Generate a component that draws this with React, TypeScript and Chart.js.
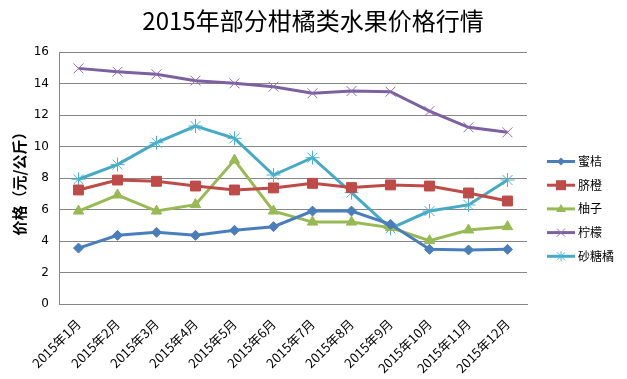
import React, { useEffect, useRef } from "react";
import { Chart, registerables } from "chart.js";

Chart.register(...registerables);

const title = "2015年部分柑橘类水果价格行情";
const yTitle = "价格（元/公斤）";
const months = [
  "2015年1月", "2015年2月", "2015年3月", "2015年4月", "2015年5月", "2015年6月",
  "2015年7月", "2015年8月", "2015年9月", "2015年10月", "2015年11月", "2015年12月",
];
const seriesNames = ["蜜桔", "脐橙", "柚子", "柠檬", "砂糖橘"];
const mijie = [3.55, 4.36, 4.55, 4.36, 4.68, 4.91, 5.9, 5.9, 5.06, 3.47, 3.43, 3.47];
const qicheng = [7.24, 7.87, 7.79, 7.49, 7.24, 7.37, 7.66, 7.39, 7.56, 7.49, 7.05, 6.54];
const youzi = [5.9, 6.92, 5.9, 6.31, 9.14, 5.9, 5.2, 5.2, 4.85, 4.02, 4.7, 4.91];
const ningmeng = [14.96, 14.75, 14.58, 14.18, 14.01, 13.8, 13.38, 13.52, 13.48, 12.25, 11.22, 10.9];
const shatangju = [7.92, 8.85, 10.24, 11.3, 10.52, 8.19, 9.29, 7.07, 4.8, 5.9, 6.29, 7.87];
const yTicksMax = 16;
const yTicksStep = 2;

const colors = ["#4A7EBB", "#BE4B48", "#98B954", "#7D60A0", "#46AAC5"];
const markerColors = ["#4A7EBB", "#BE4B48", "#98B954", "#8C6FB0", "#4BB3CF"];
const pointStyles = ["rectRot", "rect", "triangle", "crossRot", "star"];
const pointRadii = [5, 7, 6, 7, 7];
const pointBorderWidths = [1, 1, 1, 1, 1];

const CJK = '"Noto Sans CJK SC", sans-serif';

function drawMarker(ctx: CanvasRenderingContext2D, kind: string, x: number, y: number, color: string) {
  ctx.save();
  ctx.fillStyle = color;
  ctx.strokeStyle = color;
  ctx.lineWidth = 1;
  ctx.beginPath();
  if (kind === "rectRot") {
    ctx.moveTo(x, y - 4); ctx.lineTo(x + 4, y); ctx.lineTo(x, y + 4); ctx.lineTo(x - 4, y); ctx.closePath(); ctx.fill();
  } else if (kind === "rect") {
    ctx.rect(x - 5, y - 5, 10, 10); ctx.fill();
  } else if (kind === "triangle") {
    ctx.moveTo(x, y - 5); ctx.lineTo(x + 5, y + 3); ctx.lineTo(x - 5, y + 3); ctx.closePath(); ctx.fill();
  } else if (kind === "crossRot") {
    ctx.moveTo(x - 4, y - 4); ctx.lineTo(x + 4, y + 4); ctx.moveTo(x + 4, y - 4); ctx.lineTo(x - 4, y + 4); ctx.stroke();
  } else {
    ctx.moveTo(x - 4, y - 4); ctx.lineTo(x + 4, y + 4); ctx.moveTo(x + 4, y - 4); ctx.lineTo(x - 4, y + 4);
    ctx.moveTo(x, y - 5); ctx.lineTo(x, y + 5); ctx.stroke();
  }
  ctx.restore();
}

const decorPlugin = {
  id: "decor",
  afterDraw(chart: any) {
    const ctx: CanvasRenderingContext2D = chart.ctx;
    ctx.save();
    // title
    ctx.fillStyle = "#000";
    ctx.font = `24px ${CJK}`;
    ctx.textAlign = "center";
    ctx.textBaseline = "middle";
    ctx.fillText(title, 313, 21);
    // y title
    ctx.save();
    ctx.translate(19, 180);
    ctx.rotate(-Math.PI / 2);
    ctx.font = `bold 15px ${CJK}`;
    ctx.fillText(yTitle, 0, 0);
    ctx.restore();
    // legend
    const y0 = 161.5;
    const dy = 23.7;
    seriesNames.forEach((name, i) => {
      const y = y0 + i * dy;
      ctx.strokeStyle = colors[i];
      ctx.lineWidth = 3;
      ctx.beginPath();
      ctx.moveTo(547, y);
      ctx.lineTo(575, y);
      ctx.stroke();
      drawMarker(ctx, pointStyles[i], 561, y, markerColors[i]);
      ctx.fillStyle = "#000";
      ctx.font = `12px ${CJK}`;
      ctx.textAlign = "left";
      ctx.textBaseline = "middle";
      ctx.fillText(name, 578, y);
    });
    ctx.restore();
  },
};

export default function App() {
  const ref = useRef<HTMLCanvasElement | null>(null);
  useEffect(() => {
    document.body.style.margin = "0";
    const canvas = ref.current!;
    const seriesData = [mijie, qicheng, youzi, ningmeng, shatangju];
    const chart = new Chart(canvas, {
      type: "line",
      data: {
        labels: months,
        datasets: seriesNames.map((name, i) => ({
          label: name,
          data: seriesData[i],
          borderColor: colors[i],
          backgroundColor: markerColors[i],
          pointBackgroundColor: markerColors[i],
          pointBorderColor: markerColors[i],
          borderWidth: 3,
          pointStyle: pointStyles[i] as any,
          pointRadius: pointRadii[i],
          pointBorderWidth: pointBorderWidths[i],
          tension: 0,
          fill: false,
        })),
      },
      options: {
        responsive: false,
        animation: false,
        devicePixelRatio: 1,
        layout: { padding: { top: 52, right: 100, left: 0, bottom: 0 } },
        plugins: {
          legend: { display: false },
          title: { display: false },
          tooltip: { enabled: false },
        },
        scales: {
          x: {
            offset: true,
            grid: { display: false },
            border: { display: true, color: "#868686", width: 1 },
            ticks: {
              minRotation: 45,
              maxRotation: 45,
              autoSkip: false,
              color: "#000",
              padding: 4,
              font: { family: CJK, size: 13 },
            },
            afterFit(scale: any) { scale.height = 75; },
          },
          y: {
            min: 0,
            max: yTicksMax,
            ticks: {
              stepSize: yTicksStep,
              color: "#000",
              padding: 10,
              font: { family: '"DejaVu Sans", sans-serif', size: 12 },
            },
            grid: { color: "#868686", lineWidth: 1, drawTicks: false },
            border: { display: true, color: "#868686", width: 1 },
            afterFit(scale: any) { scale.width = 59; },
          },
        },
      },
      plugins: [decorPlugin],
    });
    return () => chart.destroy();
  }, []);
  return (
    <div style={{ width: 627, height: 379, background: "#fff" }}>
      <canvas ref={ref} width={627} height={379} style={{ display: "block" }} />
    </div>
  );
}
